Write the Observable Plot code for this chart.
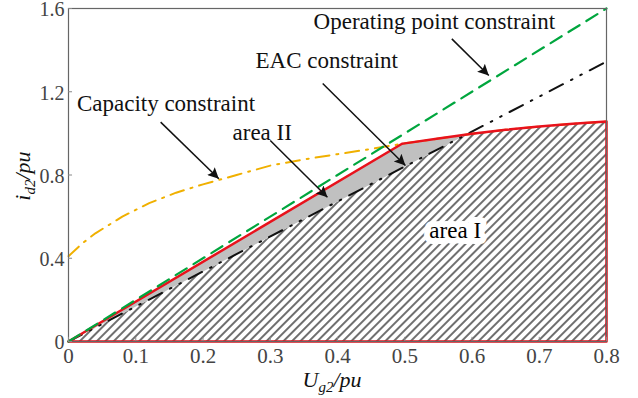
<!DOCTYPE html>
<html>
<head>
<meta charset="utf-8">
<script src="https://cdn.jsdelivr.net/npm/d3@7"></script>
<script src="https://cdn.jsdelivr.net/npm/@observablehq/plot@0.6"></script>
<style>
  html, body { margin: 0; padding: 0; background: white; }
</style>
</head>
<body>
<div id="chart"></div>
<script>
// ---- data ----
const xTicks = [0, 0.1, 0.2, 0.3, 0.4, 0.5, 0.6, 0.7, 0.8];
const yTicks = [0, 0.4, 0.8, 1.2, 1.6];

// Operating point constraint (green dashed)
const opX = [0, 0.8];
const opY = [0, 1.6];

// EAC constraint (black dash-dot-dot)
const eacX = [0, 0.8];
const eacY = [0, 1.345];

// Capacity constraint (orange dash-dot)
const capX = [0, 0.02, 0.04, 0.08, 0.12, 0.16, 0.2, 0.25, 0.3, 0.35, 0.4, 0.45, 0.5, 0.55, 0.6, 0.65, 0.7, 0.75, 0.8];
const capY = [0.41, 0.47, 0.52, 0.60, 0.665, 0.715, 0.755, 0.80, 0.845, 0.875, 0.90, 0.925, 0.952, 0.975, 0.998, 1.017, 1.033, 1.046, 1.057];

// Feasible region boundary (red)
const boundX = [0, 0.496, 0.5, 0.55, 0.6, 0.65, 0.7, 0.75, 0.8, 0.8, 0];
const boundY = [0, 0.95, 0.952, 0.975, 0.998, 1.017, 1.033, 1.046, 1.057, 0, 0];

// area II (grey) polygon
const area2X = [0, 0.496, 0.5, 0.55, 0.592];
const area2Y = [0, 0.95, 0.952, 0.975, 0.995];

// area I (hatched) polygon
const area1X = [0, 0.592, 0.6, 0.65, 0.7, 0.75, 0.8, 0.8];
const area1Y = [0, 0.995, 0.998, 1.017, 1.033, 1.046, 1.057, 0];

// annotations
const labelText = ["Operating point constraint", "EAC constraint", "Capacity constraint", "area II"];
const labelX = [0.544, 0.384, 0.145, 0.288];
const labelY = [1.535, 1.35, 1.145, 1.005];

const arrowX1 = [0.570, 0.378, 0.137, 0.300];
const arrowY1 = [1.454, 1.240, 1.054, 0.966];
const arrowX2 = [0.625, 0.501, 0.2235, 0.385];
const arrowY2 = [1.278, 0.846, 0.782, 0.693];

const area1Label = ["area I"];
const area1LabelX = [0.575];
const area1LabelY = [0.533];

// ---- build tables ----
const pts = (xs, ys) => xs.map((x, i) => ({x, y: ys[i]}));
const op = pts(opX, opY);
const eac = pts(eacX, eacY);
const cap = pts(capX, capY);
const bound = pts(boundX, boundY);
const area2 = pts(area2X, area2Y);
const area1 = pts(area1X, area1Y);
const labels = labelText.map((t, i) => ({t, x: labelX[i], y: labelY[i]}));
const arrows = arrowX1.map((x1, i) => ({x1, y1: arrowY1[i], x2: arrowX2[i], y2: arrowY2[i]}));
const a1 = area1Label.map((t, i) => ({t, x: area1LabelX[i], y: area1LabelY[i]}));

const FONT = "Liberation Serif, Times New Roman, serif";

const svg = Plot.plot({
  width: 638,
  height: 398,
  marginLeft: 68,
  marginRight: 32,
  marginTop: 8,
  marginBottom: 57,
  style: {fontFamily: FONT, fontSize: "20px", background: "white", color: "#444"},
  x: {domain: [0, 0.8]},
  y: {domain: [0, 1.6]},
  marks: [
    Plot.line(area1, {x: "x", y: "y", fill: "url(#hatch)", stroke: "none", curve: "linear"}),
    Plot.line(area2, {x: "x", y: "y", fill: "#c0c0c0", stroke: "none"}),
    Plot.text(a1, {x: "x", y: "y", text: "t", fill: "black", stroke: "white", strokeWidth: 12, fontSize: 23, fontFamily: FONT}),
    Plot.line(cap, {x: "x", y: "y", stroke: "#f0b000", strokeWidth: 2, strokeDasharray: "14,7,2,7"}),
    Plot.line(eac, {x: "x", y: "y", stroke: "#111", strokeWidth: 2, strokeDasharray: "15,9,1.6,9,1.6,9"}),
    Plot.line(bound, {x: "x", y: "y", stroke: "#e8121c", strokeWidth: 2.5}),
    Plot.line(op, {x: "x", y: "y", stroke: "#00a63e", strokeWidth: 2.2, strokeDasharray: "13,8"}),
    Plot.frame({stroke: "#666", strokeWidth: 1.2}),
    Plot.ruleX(xTicks, {x: d => d, y1: 0, y2: 0.02, stroke: "#888"}),
    Plot.ruleY(yTicks, {y: d => d, x1: 0, x2: 0.006, stroke: "#888"}),
    Plot.axisX(xTicks, {tickSize: 0, tickPadding: 7, tickFormat: d => String(d), label: null, fontSize: 21, fill: "#444"}),
    Plot.axisY(yTicks, {tickSize: 0, tickPadding: 4, tickFormat: d => String(d), label: null, fontSize: 20, fill: "#444", dy: 1.5}),
    Plot.text(labels, {x: "x", y: "y", text: "t", fill: "#111", fontSize: 23, fontFamily: FONT}),
    Plot.link(arrows, {x1: "x1", y1: "y1", x2: "x2", y2: "y2", stroke: "#111", strokeWidth: 1.5})
  ]
});

const s = d3.select(svg);
const defs = s.insert("defs", ":first-child");
const pat = defs.append("pattern")
  .attr("id", "hatch").attr("patternUnits", "userSpaceOnUse")
  .attr("width", 6).attr("height", 6)
  .attr("patternTransform", "rotate(45)");
pat.append("rect").attr("width", 6).attr("height", 6).attr("fill", "white");
pat.append("line").attr("x1", 3).attr("y1", 0).attr("x2", 3).attr("y2", 6)
  .attr("stroke", "#222").attr("stroke-width", 1.3);

const mk = defs.append("marker")
  .attr("id", "ah").attr("viewBox", "0 0 10 10")
  .attr("refX", 10).attr("refY", 5)
  .attr("markerWidth", 16).attr("markerHeight", 11)
  .attr("markerUnits", "userSpaceOnUse").attr("orient", "auto");
mk.append("path").attr("d", "M0,0L10,5L0,10L2,5z").attr("fill", "#111");

s.selectAll('g[aria-label="link"] path').attr("marker-end", "url(#ah)");

// axis titles with subscripts
const xl = s.append("text")
  .attr("x", 332).attr("y", 387)
  .attr("text-anchor", "middle")
  .attr("font-family", FONT).attr("font-size", 22).attr("font-style", "italic").attr("fill", "#111");
xl.append("tspan").text("U");
xl.append("tspan").attr("dy", 5).attr("font-size", 15).text("g2");
xl.append("tspan").attr("dy", -5).text("/pu");

const yl = s.append("text")
  .attr("transform", "translate(30,176) rotate(-90)")
  .attr("text-anchor", "middle")
  .attr("font-family", FONT).attr("font-size", 22).attr("font-style", "italic").attr("fill", "#111");
yl.append("tspan").text("i");
yl.append("tspan").attr("dy", 5).attr("font-size", 15).text("d2");
yl.append("tspan").attr("dy", -5).text("/pu");

document.getElementById("chart").appendChild(svg);
</script>
</body>
</html>
